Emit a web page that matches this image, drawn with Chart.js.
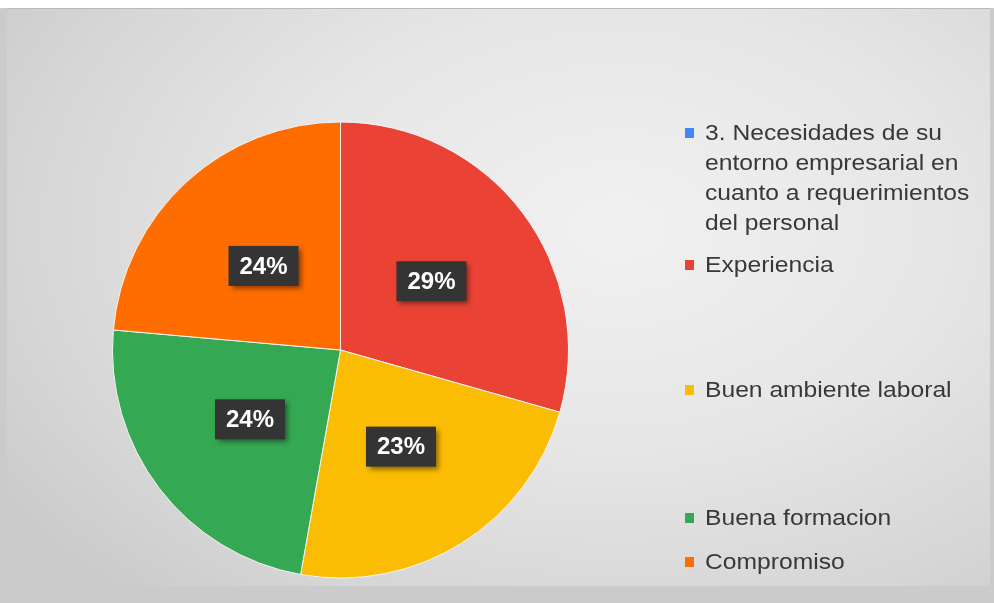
<!DOCTYPE html>
<html>
<head>
<meta charset="utf-8">
<script src="https://cdn.jsdelivr.net/npm/chart.js@4.4.1/dist/chart.umd.min.js"></script>
<style>
    html, body { margin: 0; padding: 0; }
    body { width: 994px; height: 603px; background: #cbcbcb; position: relative; overflow: hidden; font-family: "Liberation Sans", Arial, sans-serif; }
    #topStrip { position: absolute; left: 0; top: 0; width: 994px; height: 8px; background: #ffffff; }
    #panel {
        position: absolute; left: 7px; top: 8px; width: 983px; height: 577px;
        border-top: 1px solid #b9b9b9;
        background: radial-gradient(ellipse 75% 85% at 62% 38%, #f1f1f1 0%, #e6e6e6 45%, #d6d6d6 80%, #cbcbcb 100%);
    }
    #chartBox { position: absolute; left: 0; top: 0; width: 994px; height: 603px; }
    #legend { position: absolute; left: 685px; top: 0; }
    .item { position: absolute; left: 0; width: 300px; font-size: 22px; line-height: 30px; color: #383838; }
    .item .sw { position: absolute; left: 0; width: 9px; height: 10px; }
    .item .tx { position: absolute; left: 20px; white-space: nowrap; transform: scaleX(1.12); transform-origin: left top; }
</style>
</head>
<body>
<div id="topStrip"></div>
<div id="panel"></div>
<div id="chartBox"><canvas id="grafico"></canvas></div>
<div id="legend"></div>
<script>
// ==============================
// Datos
// ==============================
const categorias = [
    ["3. Necesidades de su", "entorno empresarial en", "cuanto a requerimientos", "del personal"],
    ["Experiencia"],
    ["Buen ambiente laboral"],
    ["Buena formacion"],
    ["Compromiso"]
];
const valores = [0, 29.4, 23.4, 23.6, 23.6];
const colores = ["#4285f4", "#ea4335", "#fbbc04", "#34a853", "#ff6d01"];
const legendaY = [118, 250, 375, 503, 547];

// ==============================
// Leyenda (texto real en HTML)
// ==============================
const legend = document.getElementById("legend");
categorias.forEach((lineas, i) => {
    const div = document.createElement("div");
    div.className = "item";
    div.style.top = legendaY[i] + "px";
    div.innerHTML = '<span class="sw" style="top:10px;background:' + colores[i] + '"></span>' +
        '<span class="tx">' + lineas.join("<br>") + '</span>';
    legend.appendChild(div);
});

// ==============================
// Etiquetas de porcentaje
// ==============================
const etiquetas = {
    id: "etiquetas",
    afterDatasetsDraw(chart) {
        const ctx = chart.ctx;
        const meta = chart.getDatasetMeta(0);
        const total = valores.reduce((a, b) => a + b, 0);
        meta.data.forEach((arc, i) => {
            if (!valores[i]) return;
            const p = arc.tooltipPosition();
            const txt = Math.round(valores[i] / total * 100) + "%";
            const w = 70, h = 40;
            ctx.save();
            ctx.shadowColor = "rgba(0,0,0,0.45)";
            ctx.shadowBlur = 5;
            ctx.shadowOffsetX = 3;
            ctx.shadowOffsetY = 3;
            ctx.fillStyle = "#343434";
            ctx.fillRect(p.x - w / 2, p.y - h / 2, w, h);
            ctx.restore();
            ctx.save();
            ctx.fillStyle = "#ffffff";
            ctx.font = "bold 24px 'Liberation Sans', Arial, sans-serif";
            ctx.textAlign = "center";
            ctx.textBaseline = "middle";
            ctx.fillText(txt, p.x, p.y + 1);
            ctx.restore();
        });
    }
};

// ==============================
// Gráfico circular
// ==============================
const ctx = document.getElementById("grafico").getContext("2d");
new Chart(ctx, {
    type: "pie",
    data: {
        labels: categorias.map(l => l.join(" ")),
        datasets: [{
            data: valores,
            backgroundColor: colores,
            borderColor: "#f4f4f4",
            borderWidth: [0, 1, 1, 1, 1]
        }]
    },
    options: {
        responsive: true,
        maintainAspectRatio: false,
        animation: false,
        layout: { padding: { left: 112, top: 121, right: 425, bottom: 24 } },
        plugins: {
            legend: { display: false },
            tooltip: { enabled: false }
        }
    },
    plugins: [etiquetas]
});
</script>
</body>
</html>
